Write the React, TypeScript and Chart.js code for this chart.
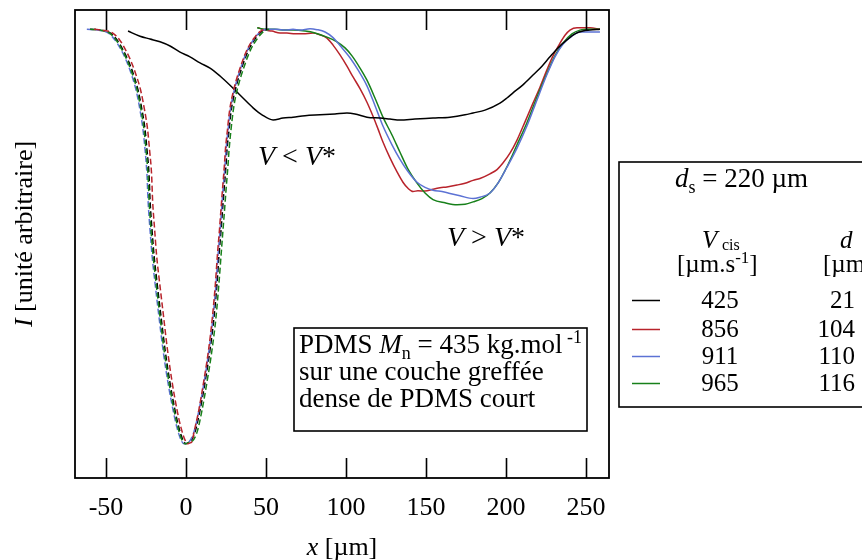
import React, { useEffect, useRef } from "react";
import { Chart, registerables } from "chart.js";

Chart.register(...registerables);

// ---------- data (x in µm, intensity in arbitrary units 0..1) ----------
const xTicks = [-50, 0, 50, 100, 150, 200, 250];

// shared intensity levels at which the dashed reference dips were read
const dipLevels = [
  0.959, 0.957, 0.951, 0.936, 0.915, 0.893, 0.865, 0.829, 0.786, 0.744, 0.701, 0.647,
  0.594, 0.53, 0.476, 0.417, 0.344, 0.274, 0.203, 0.145, 0.107, 0.081, 0.073, 0.075,
  0.079, 0.098, 0.145, 0.205, 0.274, 0.344, 0.417, 0.476, 0.53, 0.558, 0.615, 0.669,
  0.701, 0.744, 0.782, 0.808, 0.844, 0.878, 0.902, 0.921, 0.938, 0.951, 0.957, 0.959,
];
const dipBlackX = [
  -60, -53.75, -47.5, -43.1, -39.4, -36.25, -33.1, -30, -27.5, -25.6, -24.4, -23.1,
  -22.5, -21.25, -20, -18.1, -15.6, -13.1, -10, -6.9, -4.4, -1.9, 0, 1.25,
  3.1, 5.6, 8.75, 11.9, 15, 17.5, 19.4, 20.6, 21.9, 22.5, 23.75, 25,
  25.6, 26.9, 28.1, 29.4, 31.9, 35, 37.5, 40, 43.1, 46.25, 48.75, 50.6,
];
const dipRedX = [
  -57.5, -52, -46, -41.5, -37.8, -34.7, -31.6, -28.4, -25.9, -24, -22.8, -21.5,
  -20.9, -19.6, -18.4, -16.5, -14, -11.6, -8.6, -5.6, -3.1, -0.6, 1.2, 2.5,
  3.9, 5, 8, 11, 14.1, 16.5, 18.4, 19.6, 20.9, 21.5, 22.75, 24,
  24.6, 25.9, 27.1, 28.4, 30.9, 34, 36.5, 39, 42.1, 45.25, 47.75, 49.5,
];
const dipBlueX = [
  -62, -55, -48.75, -44.4, -40.6, -37.5, -34.4, -31.25, -28.75, -26.9, -25.6, -24.4,
  -23.75, -22.5, -21.25, -19.4, -16.9, -14.4, -11.25, -8.1, -5.6, -3.1, -1.25, 0.2,
  2.3, 4.9, 8.1, 11.3, 14.4, 16.9, 18.8, 20, 21.3, 21.9, 23.1, 24.4,
  25, 26.3, 27.5, 28.8, 31.3, 34.4, 36.9, 39.4, 42.5, 45.6, 48.1, 50,
];
const dipGreenX = [
  -60, -53.5, -48, -43.75, -40, -36.9, -33.75, -30.6, -28.1, -26.25, -25, -23.75,
  -23.1, -21.9, -20.6, -18.75, -16.25, -13.75, -10.6, -7.5, -5, -2.5, -0.6, 0.9,
  4, 6.9, 10, 13.1, 16.25, 18.75, 20.6, 21.9, 23.1, 23.75, 25, 26.25,
  26.9, 28.1, 29.4, 30.6, 33.1, 36.25, 38.75, 41.25, 44.4, 47.5, 50, 51.9,
];

// solid profiles under shear
const v425X = [
  -36.25, -28.75, -22.5, -16.25, -10, -3.75, 2.5, 8.75, 15, 21.25, 29.4, 35.6, 41.9, 47.5,
  54.4, 60.6, 66.9, 74.4, 83.75, 93.1, 100.6, 105.6, 113.1, 121.25, 127.5, 133.75, 143.1,
  154.4, 165, 174.4, 179.4, 186.9, 196.25, 200.6, 204.4, 210.6, 216.9, 222.5, 227.5, 232.5,
  238.1, 243.1, 248.1, 252.5, 258.75,
];
const v425Y = [
  0.955, 0.944, 0.938, 0.932, 0.923, 0.91, 0.9, 0.887, 0.876, 0.859, 0.833, 0.812, 0.791, 0.776,
  0.765, 0.769, 0.771, 0.774, 0.776, 0.778, 0.78, 0.778, 0.771, 0.769, 0.767, 0.765, 0.767,
  0.769, 0.771, 0.776, 0.78, 0.786, 0.801, 0.812, 0.823, 0.84, 0.861, 0.88, 0.9, 0.919,
  0.936, 0.949, 0.955, 0.957, 0.959,
];
const v856X = [
  45, 49.4, 53.75, 58.75, 63.1, 68.1, 73.1, 79.4, 83.75, 88.1, 91.9, 96.25, 100.6, 104.4,
  108.75, 113.1, 116.9, 120, 123.1, 127.5, 131.9, 135.6, 138.75, 141.9, 145, 149.4, 154.4,
  158.75, 163.1, 169.4, 174.4, 179.4, 183.75, 190, 194.4, 198.1, 202.5, 206.9, 211.9, 216.9,
  221.25, 225.6, 229.4, 233.75, 236.9, 240, 244.4, 248.1, 252.5, 258.75,
];
const v856Y = [
  0.962, 0.957, 0.955, 0.951, 0.951, 0.949, 0.949, 0.951, 0.947, 0.94, 0.925, 0.904, 0.88, 0.857,
  0.832, 0.803, 0.773, 0.746, 0.718, 0.684, 0.654, 0.632, 0.619, 0.612, 0.614, 0.613, 0.617,
  0.62, 0.622, 0.626, 0.63, 0.636, 0.64, 0.65, 0.659, 0.673, 0.694, 0.722, 0.761, 0.801,
  0.835, 0.872, 0.902, 0.929, 0.946, 0.957, 0.962, 0.962, 0.962, 0.959,
];
const v911X = [
  47.5, 52.5, 56.9, 61.9, 66.9, 71.25, 77.5, 81.9, 86.9, 91.9, 96.25, 102.5, 107.5, 113.1,
  118.1, 123.1, 128.75, 133.75, 138.75, 144.4, 149.4, 154.4, 160, 165, 171.25, 179.4, 183.75,
  190, 195, 200.6, 206.9, 213.1, 219.4, 225.6, 230.6, 235.6, 241.25, 246.25, 252.5, 258.75,
];
const v911Y = [
  0.957, 0.959, 0.959, 0.957, 0.959, 0.957, 0.96, 0.958, 0.953, 0.941, 0.924, 0.898, 0.872, 0.838,
  0.796, 0.752, 0.712, 0.681, 0.655, 0.632, 0.621, 0.615, 0.612, 0.608, 0.603, 0.597, 0.6,
  0.609, 0.63, 0.664, 0.705, 0.752, 0.808, 0.862, 0.9, 0.927, 0.944, 0.953, 0.953, 0.953,
];
const v965X = [
  44.4, 49.4, 55.6, 61.9, 66.9, 74.4, 80.6, 88.1, 94.4, 99.4, 103.75, 108.75, 113.1, 118.1,
  123.1, 128.75, 133.75, 138.75, 144.4, 149.4, 154.4, 161.9, 169.4, 174.4, 179.4, 185, 190,
  195, 200.6, 206.9, 213.1, 219.4, 225.6, 230.6, 235.6, 241.25, 246.25, 252.5, 258.75,
];
const v965Y = [
  0.962, 0.959, 0.959, 0.957, 0.957, 0.955, 0.951, 0.942, 0.932, 0.919, 0.902, 0.876, 0.85, 0.812,
  0.771, 0.733, 0.696, 0.66, 0.63, 0.609, 0.595, 0.588, 0.584, 0.585, 0.59, 0.597, 0.609,
  0.63, 0.665, 0.712, 0.759, 0.814, 0.865, 0.902, 0.929, 0.949, 0.957, 0.959, 0.959,
];

const vcisValues = ["425", "856", "911", "965"];
const dValues = ["21", "104", "110", "116"];

// ---------- styles ----------
const BLACK = "#000000";
const RED = "#b8232b";
const BLUE = "#5c72d4";
const GREEN = "#17801a";
const seriesColors = [BLACK, RED, BLUE, GREEN];
const SERIF = '"Liberation Serif", "Times New Roman", serif';

const pts = (xs: number[], ys: number[]) => xs.map((x, i) => ({ x, y: ys[i] }));

type Seg = { t: string; it?: boolean; sub?: boolean; sup?: boolean };

function drawRich(
  ctx: CanvasRenderingContext2D,
  segs: Seg[],
  x: number,
  y: number,
  size: number,
  align: "left" | "center" | "right" = "left"
) {
  const fontFor = (s: Seg) =>
    `${s.it ? "italic " : ""}${s.sub || s.sup ? Math.round(size * 0.68) : size}px ${SERIF}`;
  let w = 0;
  for (const s of segs) {
    ctx.font = fontFor(s);
    w += ctx.measureText(s.t).width;
  }
  let cx = align === "left" ? x : align === "center" ? x - w / 2 : x - w;
  ctx.textAlign = "left";
  ctx.textBaseline = "alphabetic";
  for (const s of segs) {
    ctx.font = fontFor(s);
    const dy = s.sub ? size * 0.22 : s.sup ? -size * 0.38 : 0;
    ctx.fillText(s.t, cx, y + dy);
    cx += ctx.measureText(s.t).width;
  }
}

const decorPlugin = {
  id: "decor",
  afterDraw(chart: any) {
    const { ctx, chartArea: a, scales } = chart;
    const xs = scales.x;
    ctx.save();
    ctx.strokeStyle = "#000";
    ctx.fillStyle = "#000";
    ctx.lineWidth = 1.8;
    // frame
    ctx.strokeRect(a.left, a.top, a.right - a.left, a.bottom - a.top);
    // inward ticks top and bottom
    ctx.lineWidth = 1.6;
    for (const t of xs.ticks) {
      const px = Math.round(xs.getPixelForValue(t.value)) + 0.5;
      ctx.beginPath();
      ctx.moveTo(px, a.bottom);
      ctx.lineTo(px, a.bottom - 20);
      ctx.moveTo(px, a.top);
      ctx.lineTo(px, a.top + 20);
      ctx.stroke();
    }
    // axis titles
    drawRich(ctx, [{ t: "x", it: true }, { t: " [µm]" }], (a.left + a.right) / 2, 555, 26, "center");
    ctx.save();
    ctx.translate(32, 234);
    ctx.rotate(-Math.PI / 2);
    drawRich(ctx, [{ t: "I", it: true }, { t: " [unité arbitraire]" }], 0, 0, 26, "center");
    ctx.restore();

    // regime labels
    drawRich(ctx, [{ t: "V", it: true }, { t: " < " }, { t: "V", it: true }, { t: "*" }], 258, 165, 28);
    drawRich(ctx, [{ t: "V", it: true }, { t: " > " }, { t: "V", it: true }, { t: "*" }], 447, 246, 28);

    // annotation box
    ctx.lineWidth = 1.6;
    ctx.strokeRect(294, 328, 293, 103);
    drawRich(
      ctx,
      [{ t: "PDMS " }, { t: "M", it: true }, { t: "n", sub: true }, { t: " = 435 kg.mol" }, { t: " -1", sup: true }],
      299,
      353,
      27
    );
    drawRich(ctx, [{ t: "sur une couche greffée" }], 299, 380, 27);
    drawRich(ctx, [{ t: "dense de PDMS court" }], 299, 407, 27);

    // legend box
    ctx.strokeRect(619, 162, 260, 245);
    drawRich(ctx, [{ t: "d", it: true }, { t: "s", sub: true }, { t: " = 220 µm" }], 675, 187, 27);
    drawRich(ctx, [{ t: "V", it: true }], 702, 248, 25);
    ctx.font = `16px ${SERIF}`;
    ctx.fillText("cis", 722, 250);
    drawRich(ctx, [{ t: "d", it: true }], 840, 248, 25);
    drawRich(ctx, [{ t: "[µm.s" }, { t: "-1", sup: true }, { t: "]" }], 677, 272, 25);
    drawRich(ctx, [{ t: "[µm]" }], 823, 272, 25);
    const rowBase = [308, 337, 364, 391];
    rowBase.forEach((yb, i) => {
      ctx.strokeStyle = seriesColors[i];
      ctx.lineWidth = 1.5;
      ctx.beginPath();
      ctx.moveTo(632, yb - 7.5);
      ctx.lineTo(660, yb - 7.5);
      ctx.stroke();
      ctx.fillStyle = "#000";
      drawRich(ctx, [{ t: vcisValues[i] }], 720, yb, 25, "center");
      drawRich(ctx, [{ t: dValues[i] }], 855, yb, 25, "right");
    });
    ctx.restore();
  },
};

export default function App() {
  const ref = useRef<HTMLCanvasElement | null>(null);
  useEffect(() => {
    document.body.style.margin = "0";
    const canvas = ref.current!;
    const dashed = (data: any, color: string) => ({
      data,
      borderColor: color,
      borderWidth: 1.5,
      borderDash: [6, 3],
      pointRadius: 0,
      showLine: true,
      cubicInterpolationMode: "monotone" as const,
    });
    const solid = (data: any, color: string) => ({
      data,
      borderColor: color,
      borderWidth: 1.5,
      pointRadius: 0,
      showLine: true,
      cubicInterpolationMode: "monotone" as const,
    });
    const chart = new Chart(canvas, {
      type: "scatter",
      data: {
        datasets: [
          dashed(pts(dipRedX, dipLevels), RED),
          dashed(pts(dipGreenX, dipLevels), GREEN),
          dashed(pts(dipBlueX, dipLevels), BLUE),
          dashed(pts(dipBlackX, dipLevels), BLACK),
          solid(pts(v425X, v425Y), BLACK),
          solid(pts(v911X, v911Y), BLUE),
          solid(pts(v965X, v965Y), GREEN),
          solid(pts(v856X, v856Y), RED),
        ],
      },
      options: {
        responsive: false,
        animation: false,
        layout: { padding: { left: 75, right: 253, top: 10, bottom: 0 } },
        plugins: { legend: { display: false }, tooltip: { enabled: false } },
        scales: {
          x: {
            type: "linear",
            min: -69.4,
            max: 264.4,
            grid: { display: false },
            border: { display: false },
            afterFit: (s: any) => {
              s.height = 82;
            },
            afterBuildTicks: (s: any) => {
              s.ticks = xTicks.map((v) => ({ value: v }));
            },
            ticks: {
              padding: 7,
              color: "#000",
              font: { family: SERIF, size: 26 },
              callback: (v: any) => String(v),
            },
          },
          y: { type: "linear", display: false, min: 0, max: 1 },
        },
      },
      plugins: [decorPlugin],
    });
    return () => chart.destroy();
  }, []);
  return (
    <div style={{ position: "fixed", left: 0, top: 0, width: 862, height: 560, background: "#fff" }}>
      <canvas ref={ref} width={862} height={560} />
    </div>
  );
}
